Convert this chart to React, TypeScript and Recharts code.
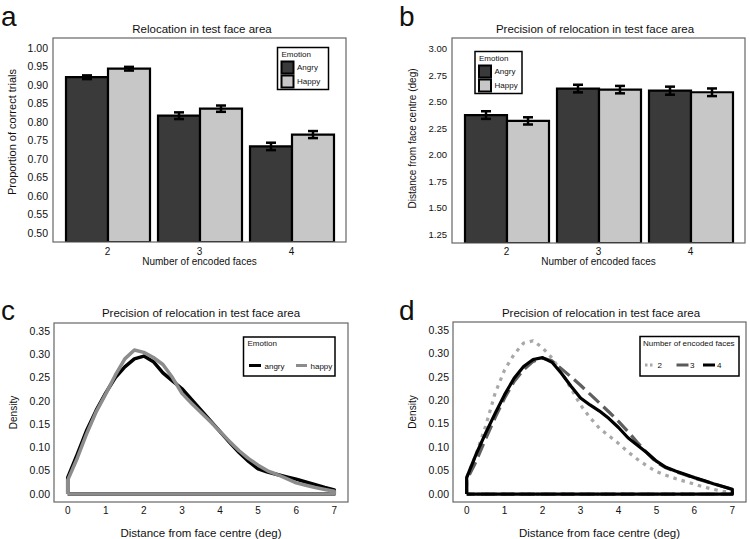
import { BarChart, Bar, ErrorBar, XAxis, YAxis, LineChart, Line } from 'recharts';

// panel a/b: bar charts
const faceCounts = ['2', '3', '4'];
const accAngry = [0.921, 0.817, 0.734];
const accAngryErr = [0.005, 0.009, 0.01];
const accHappy = [0.944, 0.836, 0.766];
const accHappyErr = [0.005, 0.0085, 0.0095];
const accTicks = [0.5, 0.55, 0.6, 0.65, 0.7, 0.75, 0.8, 0.85, 0.9, 0.95, 1.0];

const distAngry = [2.375, 2.625, 2.605];
const distAngryErr = [0.036, 0.036, 0.038];
const distHappy = [2.32, 2.615, 2.59];
const distHappyErr = [0.034, 0.035, 0.036];
const distTicks = [1.25, 1.5, 1.75, 2.0, 2.25, 2.5, 2.75, 3.0];

// panel c/d: density curves on a shared grid
const densGrid = [0, 0.25, 0.5, 0.75, 1, 1.25, 1.5, 1.75, 2, 2.25, 2.5, 2.75, 3, 3.25, 3.5, 3.75, 4, 4.25, 4.5, 4.75, 5, 5.25, 5.5, 5.75, 6, 6.25, 6.5, 6.75, 7];
const densAngry = [0.035, 0.085, 0.137, 0.18, 0.217, 0.25, 0.273, 0.29, 0.296, 0.284, 0.26, 0.243, 0.226, 0.203, 0.18, 0.157, 0.134, 0.111, 0.089, 0.07, 0.054, 0.047, 0.042, 0.037, 0.032, 0.026, 0.02, 0.014, 0.009];
const densHappy = [0.03, 0.077, 0.13, 0.177, 0.215, 0.255, 0.29, 0.309, 0.304, 0.293, 0.278, 0.25, 0.216, 0.195, 0.175, 0.155, 0.134, 0.113, 0.093, 0.076, 0.062, 0.05, 0.042, 0.033, 0.024, 0.019, 0.014, 0.01, 0.006];
const dens2 = [0.035, 0.085, 0.145, 0.215, 0.265, 0.298, 0.322, 0.327, 0.312, 0.29, 0.26, 0.225, 0.19, 0.163, 0.14, 0.124, 0.108, 0.09, 0.074, 0.06, 0.048, 0.04, 0.033, 0.027, 0.021, 0.015, 0.01, 0.006, 0.003];
const dens3 = [0.03, 0.07, 0.118, 0.163, 0.205, 0.24, 0.265, 0.283, 0.29, 0.284, 0.267, 0.25, 0.232, 0.213, 0.194, 0.175, 0.155, 0.133, 0.11, 0.088, 0.068, 0.056, 0.048, 0.041, 0.034, 0.028, 0.022, 0.016, 0.01];
const dens4 = [0.035, 0.085, 0.13, 0.172, 0.212, 0.247, 0.272, 0.287, 0.291, 0.281, 0.257, 0.23, 0.205, 0.19, 0.177, 0.161, 0.142, 0.12, 0.104, 0.088, 0.07, 0.057, 0.049, 0.042, 0.035, 0.029, 0.022, 0.016, 0.01];
const densXTicks = [0, 1, 2, 3, 4, 5, 6, 7];
const densYTicks = [0, 0.05, 0.1, 0.15, 0.2, 0.25, 0.3, 0.35];

const accData = faceCounts.map((f, i) => ({ faces: f, angry: accAngry[i], angryErr: accAngryErr[i], happy: accHappy[i], happyErr: accHappyErr[i] }));
const distData = faceCounts.map((f, i) => ({ faces: f, angry: distAngry[i], angryErr: distAngryErr[i], happy: distHappy[i], happyErr: distHappyErr[i] }));

// ggplot-style closed density outline: up the left edge, along the curve, down, back along the baseline
const outline = (ys: number[]) => {
  const last = densGrid[densGrid.length - 1];
  return [
    { x: 0, y: 0 },
    ...densGrid.map((x, i) => ({ x, y: ys[i] })),
    { x: last, y: 0 },
    { x: 0, y: 0 },
  ];
};

const W = 375;
const DARK = '#3a3a3a';
const LIGHT = '#c7c7c7';
const FONT = '"Liberation Sans", Arial, sans-serif';

const panels = {
  a: { left: 0, top: 0, h: 270, margin: { top: 38, right: 29, bottom: 0, left: 5 }, yw: 48, xh: 28 },
  b: { left: 375, top: 0, h: 270, margin: { top: 38, right: 5, bottom: 0, left: 29 }, yw: 48, xh: 27 },
  c: { left: 0, top: 270, h: 269, margin: { top: 53, right: 27, bottom: 0, left: 5 }, yw: 49, xh: 37 },
  d: { left: 375, top: 270, h: 269, margin: { top: 52, right: 4, bottom: 0, left: 29 }, yw: 49, xh: 37 },
};

type Panel = typeof panels.a;
const frameOf = (p: Panel) => ({
  x: p.left + p.margin.left + p.yw,
  y: p.top + p.margin.top,
  w: W - p.margin.left - p.yw - p.margin.right,
  h: p.h - p.margin.top - p.xh - p.margin.bottom,
});

const fmt2 = (v: number) => v.toFixed(2);

const BarPanel = ({ p, data, ticks, domain, yLabel, yTickSize, yLabelSize, yLabelOffset, yLabelDy, xTickMargin, yTickMargin }: any) => (
  <div style={{ position: 'absolute', left: p.left, top: p.top }}>
    <BarChart width={W} height={p.h} data={data} margin={p.margin} barCategoryGap={4.5} barGap={0}>
      <XAxis dataKey="faces" height={p.xh} tickLine={false} axisLine={false} tickSize={0} tickMargin={xTickMargin}
        padding={{ left: 8.5, right: 8.5 }} tick={{ fill: '#111', fontSize: 10 }}
        label={{ value: 'Number of encoded faces', position: 'insideBottom', offset: 5, fill: '#111', fontSize: 10 }} />
      <YAxis type="number" width={p.yw} domain={domain} ticks={ticks} allowDataOverflow tickFormatter={fmt2}
        tickLine={false} axisLine={false} tickSize={0} tickMargin={yTickMargin} tick={{ fill: '#111', fontSize: yTickSize }}
        label={{ value: yLabel, angle: -90, position: 'insideLeft', offset: yLabelOffset, dy: yLabelDy, fill: '#111', fontSize: yLabelSize, style: { textAnchor: 'middle' } }} />
      <Bar dataKey="angry" fill={DARK} stroke="#000" strokeWidth={2.2} isAnimationActive={false}>
        <ErrorBar dataKey="angryErr" width={5} stroke="#000" strokeWidth={2.5} isAnimationActive={false} />
      </Bar>
      <Bar dataKey="happy" fill={LIGHT} stroke="#000" strokeWidth={2.2} isAnimationActive={false}>
        <ErrorBar dataKey="happyErr" width={5} stroke="#000" strokeWidth={2.5} isAnimationActive={false} />
      </Bar>
    </BarChart>
  </div>
);

const DensityPanel = ({ p, yTickMargin, children }: any) => (
  <div style={{ position: 'absolute', left: p.left, top: p.top }}>
    <LineChart width={W} height={p.h} margin={p.margin}>
      <XAxis type="number" dataKey="x" height={p.xh} domain={[-0.36, 7.36]} ticks={densXTicks} allowDataOverflow
        tickLine={false} axisLine={false} tickSize={0} tickMargin={5} tick={{ fill: '#111', fontSize: 10 }}
        label={{ value: 'Distance from face centre (deg)', position: 'insideBottom', offset: 2.5, fill: '#111', fontSize: 11.5 }} />
      <YAxis type="number" dataKey="y" width={p.yw} domain={[-0.017, 0.367]} ticks={densYTicks} allowDataOverflow tickFormatter={fmt2}
        tickLine={false} axisLine={false} tickSize={0} tickMargin={yTickMargin} tick={{ fill: '#111', fontSize: 10.5 }}
        label={{ value: 'Density', angle: -90, position: 'insideLeft', offset: 8, fill: '#111', fontSize: 10, style: { textAnchor: 'middle' } }} />
      {children}
    </LineChart>
  </div>
);

const lineProps = { dataKey: 'y', type: 'linear' as const, dot: false, activeDot: false, strokeWidth: 3.5, strokeLinejoin: 'round' as const, isAnimationActive: false };

const BarLegend = ({ x, y, w }: { x: number; y: number; w: number }) => (
  <g fontFamily={FONT} fontSize={8} fill="#111">
    <rect x={x} y={y} width={w} height={42} fill="#fff" stroke="#000" strokeWidth={1.5} />
    <text x={x + 4} y={y + 9.5}>Emotion</text>
    <rect x={x + 4} y={y + 14} width={12} height={12} fill={DARK} stroke="#000" strokeWidth={2} />
    <rect x={x + 4} y={y + 28} width={12} height={12} fill={LIGHT} stroke="#000" strokeWidth={2} />
    <text x={x + 19.5} y={y + 22.5}>Angry</text>
    <text x={x + 19.5} y={y + 36.5}>Happy</text>
  </g>
);

const Overlay = () => (
  <svg width={750} height={539} style={{ position: 'absolute', left: 0, top: 0, pointerEvents: 'none' }}>
    {Object.values(panels).map((p, i) => {
      const f = frameOf(p);
      return <rect key={i} x={f.x} y={f.y} width={f.w} height={f.h} fill="none" stroke="#666" strokeWidth={1.2} />;
    })}
    <g fontFamily={FONT} fontSize={28} fill="#111">
      <text x={1} y={25.5}>a</text>
      <text x={399} y={25.5}>b</text>
      <text x={1} y={320}>c</text>
      <text x={399} y={320}>d</text>
    </g>
    <g fontFamily={FONT} fontSize={11.5} fill="#111" textAnchor="middle">
      <text x={202} y={33}>Relocation in test face area</text>
      <text x={595} y={33}>Precision of relocation in test face area</text>
      <text x={201} y={317}>Precision of relocation in test face area</text>
      <text x={601} y={317}>Precision of relocation in test face area</text>
    </g>
    <BarLegend x={277.5} y={47.5} w={51} />
    <BarLegend x={475} y={51.5} w={47} />
    <g fontFamily={FONT} fontSize={8} fill="#111">
      <rect x={243.5} y={337} width={91.5} height={39} fill="#fff" stroke="#000" strokeWidth={1.5} />
      <text x={247.5} y={346}>Emotion</text>
      <line x1={249} x2={261} y1={365.5} y2={365.5} stroke="#000" strokeWidth={3} />
      <text x={264.5} y={368.5}>angry</text>
      <line x1={296} x2={307} y1={365.5} y2={365.5} stroke="#8c8c8c" strokeWidth={3} />
      <text x={310.5} y={368.5}>happy</text>

      <rect x={640} y={336.5} width={99} height={39.5} fill="#fff" stroke="#000" strokeWidth={1.5} />
      <text x={643} y={346}>Number of encoded faces</text>
      <line x1={645} x2={654} y1={365} y2={365} stroke="#a8a8a8" strokeWidth={3} strokeDasharray="2.5 2.5" />
      <text x={657.5} y={368}>2</text>
      <line x1={676.5} x2={688.5} y1={365} y2={365} stroke="#5a5a5a" strokeWidth={3} />
      <text x={690} y={368}>3</text>
      <line x1={703} x2={715} y1={365} y2={365} stroke="#000" strokeWidth={3} />
      <text x={717} y={368}>4</text>
    </g>
  </svg>
);

export default function App() {
  return (
    <div style={{ position: 'absolute', left: 0, top: 0, width: 750, height: 539, background: '#fff', fontFamily: FONT }}>
      <BarPanel p={panels.a} data={accData} ticks={accTicks} domain={[0.4757, 1.027]} yLabel="Proportion of correct trials"
        yTickSize={10.5} yLabelSize={11} yLabelOffset={7.5} yLabelDy={-8} xTickMargin={6} yTickMargin={5} />
      <BarPanel p={panels.b} data={distData} ticks={distTicks} domain={[1.168, 3.102]} yLabel="Distance from face centre (deg)"
        yTickSize={9.5} yLabelSize={10} yLabelOffset={8} yLabelDy={-2} xTickMargin={5} yTickMargin={5} />
      <DensityPanel p={panels.c} yTickMargin={4}>
        <Line {...lineProps} data={outline(densAngry)} stroke="#000" />
        <Line {...lineProps} data={outline(densHappy)} stroke="#8c8c8c" />
      </DensityPanel>
      <DensityPanel p={panels.d} yTickMargin={4}>
        <Line {...lineProps} data={outline(dens2)} stroke="#a8a8a8" strokeDasharray="3.5 5" strokeWidth={3.2} />
        <Line {...lineProps} data={outline(dens3)} stroke="#5f5f5f" strokeDasharray="14 6" strokeWidth={3.2} />
        <Line {...lineProps} data={outline(dens4)} stroke="#000" strokeWidth={3.2} />
      </DensityPanel>
      <Overlay />
    </div>
  );
}
